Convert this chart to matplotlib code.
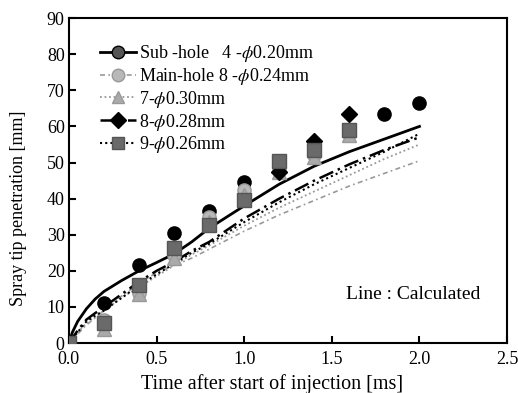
import matplotlib.pyplot as plt

plt.rcParams['font.family'] = ['Liberation Serif', 'DejaVu Serif']
plt.rcParams['mathtext.fontset'] = 'stix'
plt.rcParams['font.size'] = 13

# measured points (experiment)
t_sub = [0.0, 0.2, 0.4, 0.6, 0.8, 1.0, 1.8, 2.0]
s_sub = [0.0, 11.0, 21.5, 30.5, 36.5, 44.5, 63.5, 66.5]

t_main = [0.0, 0.2, 0.4, 0.6, 0.8, 1.0, 1.2, 1.4, 1.6]
s_main = [0.0, 6.5, 14.0, 24.5, 35.0, 42.5, 48.0, 52.0, 58.0]

t_h7 = [0.0, 0.2, 0.4, 0.6, 0.8, 1.0, 1.2, 1.4, 1.6]
s_h7 = [0.0, 4.0, 13.5, 23.5, 33.5, 41.0, 47.5, 51.5, 57.5]

t_h8 = [0.0, 1.2, 1.4, 1.6]
s_h8 = [0.0, 47.4, 56.0, 63.5]

t_h9 = [0.0, 0.2, 0.4, 0.6, 0.8, 1.0, 1.2, 1.4, 1.6]
s_h9 = [0.0, 5.5, 16.0, 26.3, 32.7, 39.6, 50.5, 53.5, 59.0]

# calculated lines
t_calc = [0.0, 0.02, 0.05, 0.1, 0.15, 0.2, 0.3, 0.4, 0.5, 0.6, 0.7, 0.8, 1.0, 1.2, 1.4, 1.6, 1.8, 2.0]
c_sub = [0.0, 3.0, 6.0, 9.5, 12.2, 14.3, 17.3, 20.0, 22.3, 24.7, 28.0, 31.8, 38.0, 44.0, 49.0, 53.0, 56.5, 60.0]
c_main = [0.0, 1.0, 2.5, 5.0, 7.0, 9.0, 13.0, 16.5, 19.5, 21.5, 23.5, 26.0, 31.0, 35.5, 39.5, 43.5, 47.0, 50.5]
c_h7 = [0.0, 1.2, 3.0, 5.5, 7.3, 9.0, 12.5, 15.5, 18.5, 21.5, 24.5, 27.0, 32.5, 37.5, 42.0, 46.5, 51.0, 55.0]
c_h8 = [0.0, 1.4, 3.5, 6.5, 8.3, 10.0, 13.5, 17.0, 20.0, 22.5, 25.5, 28.0, 34.5, 40.0, 45.0, 49.5, 53.5, 57.0]
c_h9 = [0.0, 1.2, 3.0, 6.0, 7.6, 9.0, 12.5, 16.0, 19.0, 22.0, 25.0, 27.5, 33.5, 39.0, 44.0, 48.5, 53.0, 58.0]

fig = plt.figure(figsize=(5.18, 3.93), dpi=100)
ax = fig.add_axes([0.133, 0.127, 0.846, 0.827])

# calculated curves
ax.plot(t_calc, c_main, ls=(0, (3, 2, 1, 2)), color='#999999', lw=1.2)
ax.plot(t_calc, c_h7, ls=(0, (1, 1.5)), color='#999999', lw=1.3)
ax.plot(t_calc, c_h9, ls=(0, (1, 1.5)), color='black', lw=1.5)
ax.plot(t_calc, c_h8, ls=(0, (6, 2, 1, 2)), color='black', lw=1.8)
ax.plot(t_calc, c_sub, ls='-', color='black', lw=2.0)

# measured points
ax.plot(t_sub, s_sub, 'o', color='black', ms=9.5, mec='black', zorder=3)
ax.plot(t_main, s_main, 'o', color='#b8b8b8', ms=9.5, mec='#999999', zorder=3)
ax.plot(t_h7, s_h7, '^', color='#aaaaaa', ms=9.5, mec='#999999', zorder=3)
ax.plot(t_h8, s_h8, 'D', color='black', ms=8.5, mec='black', zorder=4)
ax.plot(t_h9, s_h9, 's', color='#6a6a6a', ms=9.5, mec='#555555', zorder=4)

# legend handles
h1, = ax.plot([], [], '-o', color='black', mfc='#555555', mec='black', ms=9, lw=2)
h2, = ax.plot([], [], ls=(0, (3, 2, 1, 2)), marker='o', color='#999999', mfc='#b8b8b8', ms=9, lw=1.2)
h3, = ax.plot([], [], ls=(0, (1, 1.5)), marker='^', color='#999999', mfc='#aaaaaa', ms=9, lw=1.3)
h4, = ax.plot([], [], ls=(0, (6, 2, 1, 2)), marker='D', color='black', ms=8, lw=1.8)
h5, = ax.plot([], [], ls=(0, (1, 1.5)), marker='s', color='black', mfc='#6a6a6a', mec='#555555', ms=9, lw=1.5)
labels = [r'Sub -hole   4 -$\phi$0.20mm', r'Main-hole 8 -$\phi$0.24mm',
          r'7-$\phi$0.30mm', r'8-$\phi$0.28mm', r'9-$\phi$0.26mm']
ax.legend([h1, h2, h3, h4, h5], labels, loc='upper left', bbox_to_anchor=(0.055, 0.945),
          frameon=False, handlelength=2.0, handletextpad=0.15, labelspacing=0.1,
          borderaxespad=0, fontsize=13)

ax.text(0.785, 0.148, 'Line : Calculated', transform=ax.transAxes, ha='center', va='center', fontsize=14)

ax.set_xlim(0, 2.5)
ax.set_ylim(0, 90)
ax.set_xticks([0.0, 0.5, 1.0, 1.5, 2.0, 2.5])
ax.set_xticklabels(['0.0', '0.5', '1.0', '1.5', '2.0', '2.5'])
ax.set_yticks(range(0, 91, 10))
ax.tick_params(direction='in', length=5, width=1.5, labelsize=13)
ax.tick_params(axis='x', pad=6)
ax.tick_params(axis='y', pad=3)
for sp in ax.spines.values():
    sp.set_linewidth(1.5)

ax.set_xlabel('Time after start of injection [ms]', fontsize=14.5)
ax.set_ylabel('Spray tip penetration [mm]', fontsize=13)
ax.xaxis.set_label_coords(0.463, -0.095)
ax.yaxis.set_label_coords(-0.095, 0.415)

fig.savefig('out.png', dpi=100)
